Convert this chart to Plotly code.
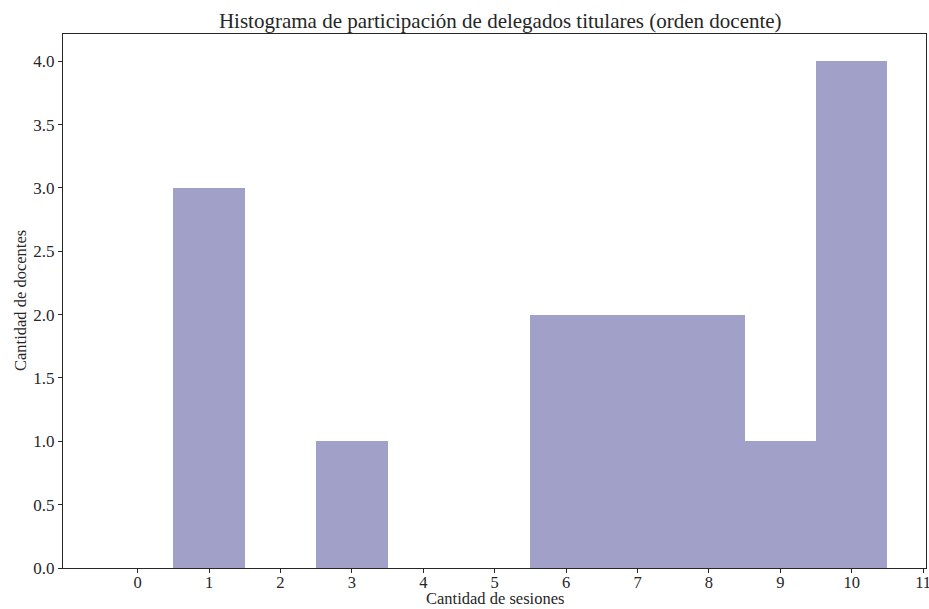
import plotly.graph_objects as go

sessions = [0, 1, 2, 3, 4, 5, 6, 7, 8, 9, 10]
counts = [0, 3, 0, 1, 0, 0, 2, 2, 2, 1, 4]
x_ticks = list(range(0, 12))
y_ticks = [0.0, 0.5, 1.0, 1.5, 2.0, 2.5, 3.0, 3.5, 4.0]

FONT = "Liberation Serif"
BAR = "#A1A0C8"
INK = "#262626"

fig = go.Figure()
fig.add_trace(go.Bar(
    x=sessions, y=counts, width=1.0,
    marker=dict(color=BAR, line=dict(width=0)),
    showlegend=False,
))

fig.update_layout(
    width=929, height=609,
    margin=dict(l=63, r=3, t=34, b=41, autoexpand=False),
    paper_bgcolor="white", plot_bgcolor="white",
    bargap=0,
    font=dict(family=FONT, size=17, color=INK),
    title=dict(
        text="Histograma de participación de delegados titulares (orden docente)",
        x=0.5385, xanchor="center", y=0.966, yanchor="middle",
        font=dict(family=FONT, size=21, color=INK),
    ),
    annotations=[
        dict(text="Cantidad de sesiones", xref="paper", yref="paper",
             x=0.5, y=0, xanchor="center", yanchor="bottom", yshift=-41,
             borderpad=0,
             showarrow=False, font=dict(family=FONT, size=16.5, color=INK)),
        dict(text="Cantidad de docentes", xref="paper", yref="paper",
             x=0, y=0.5, xanchor="center", yanchor="middle", xshift=-43,
             textangle=-90,
             showarrow=False, font=dict(family=FONT, size=16.5, color=INK)),
    ],
)
fig.update_xaxes(
    range=[-1.045, 11.04], automargin=False,
    tickvals=x_ticks, ticktext=[str(v) for v in x_ticks],
    ticks="outside", ticklen=4, tickwidth=1, tickcolor=INK,
    ticklabeloverflow="allow", ticklabelstandoff=-5,
    showgrid=False, zeroline=False,
    showline=True, linecolor=INK, linewidth=1.2, mirror=True,
    tickfont=dict(family=FONT, size=16.5, color=INK),
)
fig.update_yaxes(
    range=[0, 4.215], automargin=False,
    tickvals=y_ticks, ticktext=[f"{v:.1f}" for v in y_ticks],
    ticks="outside", ticklen=4, tickwidth=1, tickcolor=INK,
    showgrid=False, zeroline=False,
    showline=True, linecolor=INK, linewidth=1.2, mirror=True,
    tickfont=dict(family=FONT, size=17, color=INK),
)

fig.write_html(
    "out.html",
    config={"displayModeBar": False},
    post_script="document.body.style.margin='0';document.body.style.overflow='hidden';",
)
